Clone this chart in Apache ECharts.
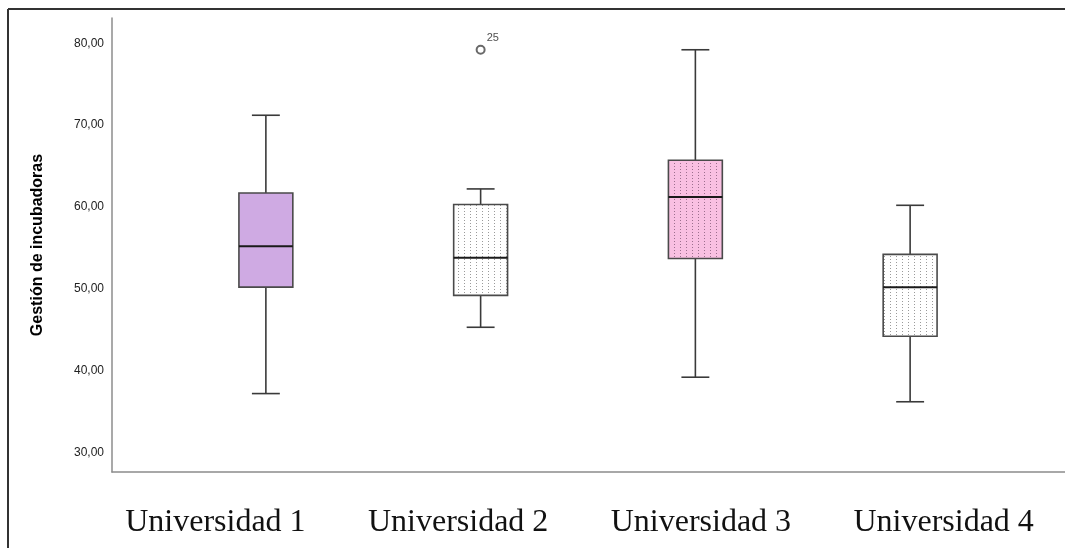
<!DOCTYPE html>
<html><head><meta charset="utf-8">
<script src="https://cdn.jsdelivr.net/npm/echarts@6/dist/echarts.min.js"></script>
<style>html,body{margin:0;padding:0;background:#fff}#c{width:1065px;height:548px}</style>
</head><body><div id="c"></div>
<script>
// ---- data ----
const categories = ['Universidad 1', 'Universidad 2', 'Universidad 3', 'Universidad 4'];
const mins    = [37.2, 45.3, 39.2, 36.2];
const q1s     = [50.2, 49.2, 53.7, 44.2];
const medians = [55.2, 53.8, 61.2, 50.2];
const q3s     = [61.7, 60.3, 65.7, 54.2];
const maxs    = [71.2, 62.2, 79.2, 60.2];
const outlierCats   = [1];
const outlierValues = [79.2];
const outlierLabels = ['25'];
const yTicks = [30, 40, 50, 60, 70, 80];
const yTitle = 'Gestión de incubadoras';

// ---- styles ----
function dotPattern(bg, dot) {
  const c = document.createElement('canvas');
  c.width = 6; c.height = 3;
  const g = c.getContext('2d');
  g.fillStyle = bg; g.fillRect(0, 0, 6, 3);
  g.fillStyle = dot; g.fillRect(2, 1, 1, 1);
  return c;
}
const boxFills = [
  '#cfaae3',
  { image: dotPattern('#ffffff', '#9a9a9a'), repeat: 'repeat' },
  { image: dotPattern('#f9c0e2', '#9c6f8e'), repeat: 'repeat' },
  { image: dotPattern('#ffffff', '#9a9a9a'), repeat: 'repeat' }
];

const Y_MIN = 27.62, Y_MAX = 83.08;
const GRID_TOP = 18, GRID_BOTTOM = 76;
const LINE = '#3a3a3a';

const boxData = categories.map((c, i) => [i, mins[i], q1s[i], medians[i], q3s[i], maxs[i]]);
const outlierData = outlierCats.map((c, i) => [c, outlierValues[i]]);

const chart = echarts.init(document.getElementById('c'), null, { renderer: 'canvas' });

chart.setOption({
  animation: false,
  backgroundColor: '#ffffff',
  grid: [
    { left: 112, right: 0, top: GRID_TOP, bottom: GRID_BOTTOM },
    { left: 158.5, right: 47.5, top: GRID_TOP, bottom: GRID_BOTTOM },
    { left: 94, right: -9, top: 500, height: 1 }
  ],
  xAxis: [
    { gridIndex: 0, type: 'category', data: categories,
      axisLine: { show: true, lineStyle: { color: '#8c8c8c', width: 1.5 } },
      axisTick: { show: false }, axisLabel: { show: false } },
    { gridIndex: 1, type: 'category', data: categories,
      axisLine: { show: false }, axisTick: { show: false }, axisLabel: { show: false } },
    { gridIndex: 2, type: 'category', data: categories,
      axisLine: { show: false }, axisTick: { show: false },
      axisLabel: { show: true, margin: 6, fontFamily: 'Liberation Serif', fontSize: 32, color: '#111' } }
  ],
  yAxis: [
    { gridIndex: 0, type: 'value', min: Y_MIN, max: Y_MAX,
      name: yTitle, nameLocation: 'middle', nameGap: 66,
      nameTextStyle: { fontFamily: 'Liberation Sans', fontWeight: 'bold', fontSize: 16, color: '#000' },
      axisLine: { show: true, lineStyle: { color: '#8c8c8c', width: 1.5 } },
      axisTick: { show: false }, splitLine: { show: false },
      axisLabel: { customValues: yTicks, margin: 8, fontFamily: 'Liberation Sans', fontSize: 12, color: '#222',
        formatter: v => v.toFixed(2).replace('.', ',') } },
    { gridIndex: 1, type: 'value', min: Y_MIN, max: Y_MAX, show: false, splitLine: { show: false } },
    { gridIndex: 2, type: 'value', show: false, splitLine: { show: false } }
  ],
  series: [
    {
      type: 'custom', xAxisIndex: 1, yAxisIndex: 1,
      data: boxData,
      encode: { x: 0, y: [1, 2, 3, 4, 5] },
      renderItem: function (params, api) {
        const i = api.value(0);
        const x = api.coord([i, api.value(3)])[0];
        const band = api.size([1, 0])[0];
        const bw = band * 0.251, cw = band * 0.13;
        const yMin = api.coord([i, api.value(1)])[1];
        const yQ1 = api.coord([i, api.value(2)])[1];
        const yMed = api.coord([i, api.value(3)])[1];
        const yQ3 = api.coord([i, api.value(4)])[1];
        const yMax = api.coord([i, api.value(5)])[1];
        const ls = { stroke: LINE, lineWidth: 1.6 };
        return {
          type: 'group',
          children: [
            { type: 'line', shape: { x1: x, y1: yMax, x2: x, y2: yQ3 }, style: ls },
            { type: 'line', shape: { x1: x, y1: yQ1, x2: x, y2: yMin }, style: ls },
            { type: 'line', shape: { x1: x - cw / 2, y1: yMax, x2: x + cw / 2, y2: yMax }, style: ls },
            { type: 'line', shape: { x1: x - cw / 2, y1: yMin, x2: x + cw / 2, y2: yMin }, style: ls },
            { type: 'rect', shape: { x: x - bw / 2, y: yQ3, width: bw, height: yQ1 - yQ3 },
              style: { fill: boxFills[i], stroke: '#4a4a4a', lineWidth: 1.6 } },
            { type: 'line', shape: { x1: x - bw / 2, y1: yMed, x2: x + bw / 2, y2: yMed },
              style: { stroke: '#1a1a1a', lineWidth: 2 } }
          ]
        };
      }
    },
    {
      type: 'scatter', xAxisIndex: 1, yAxisIndex: 1,
      data: outlierData,
      symbol: 'emptyCircle', symbolSize: 8,
      itemStyle: { color: '#444', borderColor: '#444', borderWidth: 1.4 },
      label: { show: true, position: [11, -12], fontFamily: 'Liberation Sans', fontSize: 11, color: '#222',
        formatter: p => outlierLabels[p.dataIndex] }
    }
  ],
  graphic: [
    { type: 'line', shape: { x1: 8, y1: 9, x2: 1065, y2: 9 }, style: { stroke: '#333', lineWidth: 2 } },
    { type: 'line', shape: { x1: 8, y1: 9, x2: 8, y2: 548 }, style: { stroke: '#333', lineWidth: 2 } }
  ]
});
</script>
</body></html>
